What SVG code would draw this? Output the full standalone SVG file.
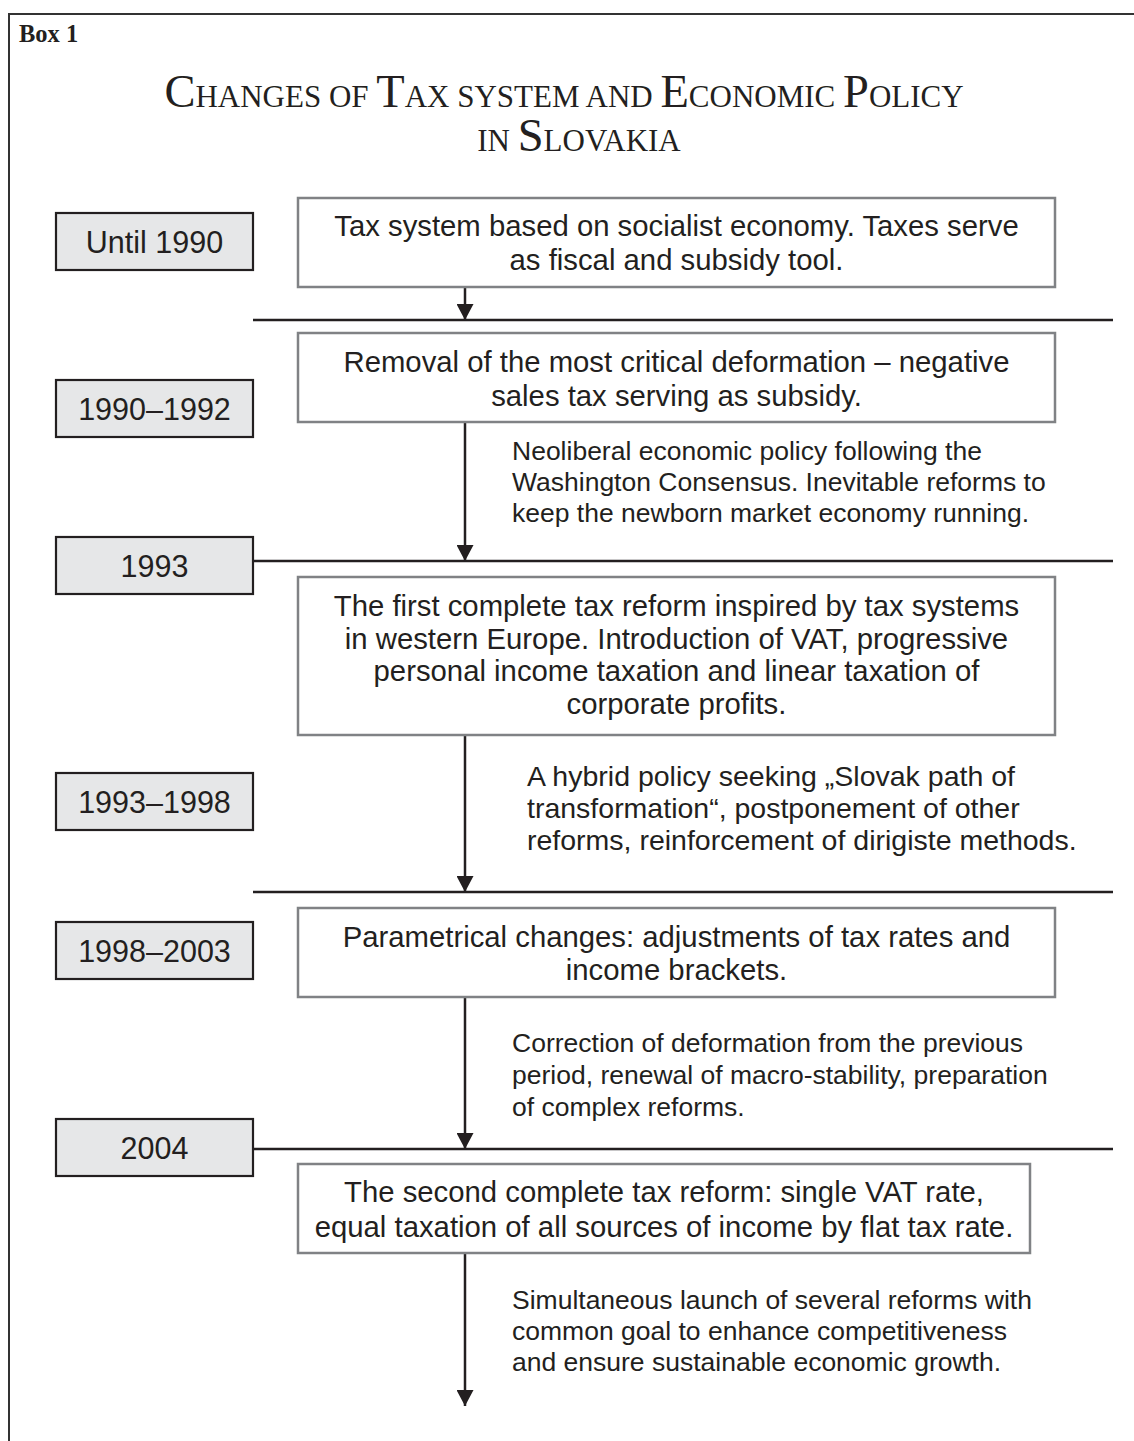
<svg xmlns="http://www.w3.org/2000/svg" width="1134" height="1441" viewBox="0 0 1134 1441">
<style>
.frame{fill:none;stroke:#333333;stroke-width:2}
.yr{fill:#e6e7e8;stroke:#231f20;stroke-width:2.2}
.bx{fill:#ffffff;stroke:#808285;stroke-width:2.5}
.ln{stroke:#231f20;stroke-width:2.5;fill:none}
.yt{font-family:"Liberation Sans",Arial,sans-serif;font-size:30.5px;fill:#231f20;text-anchor:middle}
.mt{font-family:"Liberation Sans",Arial,sans-serif;font-size:29.3px;fill:#231f20;text-anchor:middle}
.st{font-family:"Liberation Sans",Arial,sans-serif;font-size:26.5px;fill:#231f20}
.st2{font-family:"Liberation Sans",Arial,sans-serif;font-size:28.5px;fill:#231f20}
.ti{font-family:"Liberation Serif","Times New Roman",serif;fill:#231f20;text-anchor:middle}
.big{font-size:46.5px}
.sm{font-size:31px}
</style>
<defs>
<marker id="arr" viewBox="0 0 16 17" refX="16" refY="8.5" markerWidth="16" markerHeight="17" markerUnits="userSpaceOnUse" orient="auto">
<path d="M0,0 L16,8.5 L0,17 Z" fill="#231f20"/>
</marker>
</defs>
<rect x="0" y="0" width="1134" height="1441" fill="#ffffff"/>
<path class="frame" d="M9,1441 V14 H1134"/>
<text x="19" y="42" font-family="Liberation Serif,'Times New Roman',serif" font-weight="bold" font-size="24.5" fill="#231f20">Box 1</text>
<text class="ti" x="564" y="107"><tspan class="big">C</tspan><tspan class="sm">HANGES OF </tspan><tspan class="big">T</tspan><tspan class="sm">AX SYSTEM AND </tspan><tspan class="big">E</tspan><tspan class="sm">CONOMIC </tspan><tspan class="big">P</tspan><tspan class="sm">OLICY</tspan></text>
<text class="ti" x="579" y="151"><tspan class="sm">IN </tspan><tspan class="big">S</tspan><tspan class="sm">LOVAKIA</tspan></text>

<g id="connectors">
<line class="ln" x1="253" y1="320" x2="1113" y2="320"/>
<line class="ln" x1="253" y1="561" x2="1113" y2="561"/>
<line class="ln" x1="253" y1="892" x2="1113" y2="892"/>
<line class="ln" x1="253" y1="1149" x2="1113" y2="1149"/>
<line class="ln" x1="465" y1="288" x2="465" y2="320" marker-end="url(#arr)"/>
<line class="ln" x1="465" y1="423" x2="465" y2="561" marker-end="url(#arr)"/>
<line class="ln" x1="465" y1="736" x2="465" y2="892" marker-end="url(#arr)"/>
<line class="ln" x1="465" y1="998" x2="465" y2="1149" marker-end="url(#arr)"/>
<line class="ln" x1="465" y1="1254" x2="465" y2="1406" marker-end="url(#arr)"/>
</g>

<g id="y1990"><rect class="yr" x="56" y="213" width="197" height="57"/><text class="yt" x="154.5" y="252.5">Until 1990</text></g>
<g id="y1992"><rect class="yr" x="56" y="380" width="197" height="57"/><text class="yt" x="154.5" y="419.5">1990–1992</text></g>
<g id="y1993"><rect class="yr" x="56" y="537" width="197" height="57"/><text class="yt" x="154.5" y="576.5">1993</text></g>
<g id="y1998"><rect class="yr" x="56" y="773" width="197" height="57"/><text class="yt" x="154.5" y="812.5">1993–1998</text></g>
<g id="y2003"><rect class="yr" x="56" y="922" width="197" height="57"/><text class="yt" x="154.5" y="961.5">1998–2003</text></g>
<g id="y2004"><rect class="yr" x="56" y="1119" width="197" height="57"/><text class="yt" x="154.5" y="1158.5">2004</text></g>

<g id="b1"><rect class="bx" x="298" y="198" width="757" height="89"/>
<text class="mt" x="676.5" y="236">Tax system based on socialist economy. Taxes serve</text>
<text class="mt" x="676.5" y="270">as fiscal and subsidy tool.</text></g>
<g id="b2"><rect class="bx" x="298" y="333" width="757" height="89"/>
<text class="mt" x="676.5" y="372">Removal of the most critical deformation – negative</text>
<text class="mt" x="676.5" y="406">sales tax serving as subsidy.</text></g>
<g id="s1">
<text class="st" x="512" y="460">Neoliberal economic policy following the</text>
<text class="st" x="512" y="491">Washington Consensus. Inevitable reforms to</text>
<text class="st" x="512" y="522">keep the newborn market economy running.</text></g>
<g id="b3"><rect class="bx" x="298" y="577" width="757" height="158"/>
<text class="mt" x="676.5" y="616">The first complete tax reform inspired by tax  systems</text>
<text class="mt" x="676.5" y="648.5">in western Europe. Introduction of VAT, progressive</text>
<text class="mt" x="676.5" y="681">personal income taxation and linear taxation of</text>
<text class="mt" x="676.5" y="713.5">corporate profits.</text></g>
<g id="s2">
<text class="st2" x="527" y="786">A hybrid policy seeking „Slovak path of</text>
<text class="st2" x="527" y="818">transformation“, postponement of other</text>
<text class="st2" x="527" y="850">reforms, reinforcement of dirigiste methods.</text></g>
<g id="b4"><rect class="bx" x="298" y="908" width="757" height="89"/>
<text class="mt" x="676.5" y="947">Parametrical changes: adjustments of tax rates and</text>
<text class="mt" x="676.5" y="980">income brackets.</text></g>
<g id="s3">
<text class="st" x="512" y="1052">Correction of deformation from the previous</text>
<text class="st" x="512" y="1084">period, renewal of macro-stability, preparation</text>
<text class="st" x="512" y="1116">of complex reforms.</text></g>
<g id="b5"><rect class="bx" x="298" y="1164" width="732" height="89"/>
<text class="mt" x="664" y="1202">The second complete tax reform: single VAT rate,</text>
<text class="mt" x="664" y="1237">equal taxation of all sources of income by flat tax rate.</text></g>
<g id="s4">
<text class="st" x="512" y="1309">Simultaneous launch of several reforms with</text>
<text class="st" x="512" y="1340">common goal to enhance competitiveness</text>
<text class="st" x="512" y="1371">and ensure sustainable economic growth.</text></g>
</svg>
